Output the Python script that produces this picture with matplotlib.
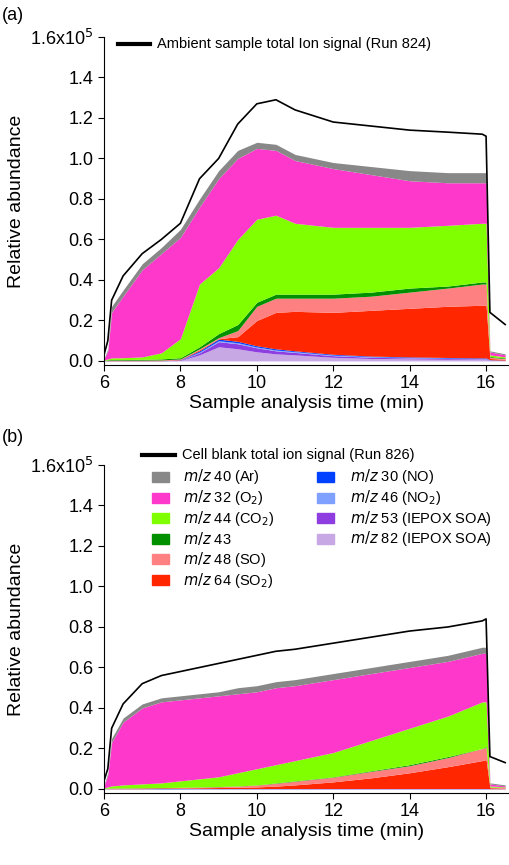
import matplotlib
matplotlib.use("Agg")
import matplotlib.pyplot as plt
import numpy as np
from matplotlib.patches import Rectangle
from matplotlib.lines import Line2D

plt.rcParams['font.family'] = ['Liberation Sans', 'DejaVu Sans']

t = [6.0,6.1,6.2,6.5,7.0,7.5,8.0,8.5,9.0,9.5,10.0,10.5,11.0,12.0,13.0,14.0,15.0,15.9,16.0,16.1,16.5]

# Panel (a) cumulative tops (x1e5), bottom layer first
a_m82 = [0,0,0,0,0,0,0.002,0.03,0.07,0.06,0.045,0.035,0.03,0.018,0.012,0.01,0.008,0.007,0.007,0.003,0.002]
a_m53 = [0,0,0,0,0,0,0.004,0.04,0.095,0.085,0.065,0.05,0.042,0.026,0.018,0.015,0.012,0.01,0.01,0.004,0.003]
a_m46 = [0,0,0,0,0,0,0.005,0.044,0.1,0.09,0.069,0.054,0.046,0.029,0.021,0.017,0.014,0.012,0.012,0.005,0.003]
a_m30 = [0.001,0.001,0.001,0.001,0.001,0.001,0.006,0.05,0.108,0.097,0.075,0.06,0.05,0.033,0.024,0.02,0.017,0.015,0.015,0.006,0.004]
a_m64 = [0.001,0.002,0.003,0.003,0.003,0.003,0.008,0.055,0.11,0.12,0.2,0.24,0.245,0.24,0.25,0.26,0.27,0.275,0.275,0.012,0.008]
a_m48 = [0.002,0.003,0.004,0.004,0.004,0.005,0.01,0.06,0.115,0.15,0.27,0.31,0.31,0.31,0.32,0.34,0.36,0.38,0.38,0.018,0.012]
a_m43 = [0.003,0.006,0.007,0.007,0.008,0.01,0.016,0.07,0.135,0.18,0.29,0.33,0.33,0.33,0.34,0.36,0.37,0.39,0.39,0.022,0.015]
a_m44 = [0.005,0.01,0.015,0.016,0.02,0.04,0.11,0.38,0.46,0.6,0.7,0.72,0.68,0.66,0.66,0.66,0.67,0.68,0.68,0.03,0.02]
a_m32 = [0.01,0.05,0.24,0.32,0.45,0.53,0.61,0.76,0.9,1.0,1.05,1.04,0.99,0.95,0.92,0.89,0.88,0.88,0.88,0.045,0.03]
a_m40 = [0.012,0.06,0.27,0.35,0.48,0.56,0.65,0.8,0.94,1.04,1.08,1.07,1.02,0.98,0.96,0.94,0.93,0.93,0.93,0.05,0.035]
a_total = [0.03,0.1,0.3,0.42,0.53,0.6,0.68,0.9,1.0,1.17,1.27,1.29,1.24,1.18,1.16,1.14,1.13,1.12,1.11,0.24,0.18]

# Panel (b)
b_m82 = [0,0,0,0,0,0,0,0,0,0,0,0,0,0,0,0,0,0,0,0,0]
b_m53 = [0,0,0,0,0,0,0,0.001,0.001,0.001,0.001,0.001,0.001,0.001,0.001,0.001,0.001,0.001,0.001,0,0]
b_m46 = [0,0,0,0,0,0,0,0.001,0.001,0.001,0.001,0.001,0.001,0.001,0.001,0.001,0.001,0.001,0.001,0,0]
b_m30 = [0.001,0.001,0.001,0.001,0.001,0.002,0.002,0.002,0.002,0.002,0.002,0.002,0.002,0.002,0.002,0.002,0.002,0.002,0.002,0.001,0.001]
b_m64 = [0.001,0.002,0.003,0.003,0.004,0.005,0.005,0.006,0.007,0.008,0.01,0.014,0.02,0.035,0.055,0.08,0.11,0.14,0.145,0.006,0.004]
b_m48 = [0.002,0.003,0.004,0.004,0.005,0.006,0.007,0.009,0.011,0.014,0.019,0.028,0.038,0.058,0.087,0.115,0.155,0.2,0.205,0.009,0.007]
b_m43 = [0.003,0.004,0.005,0.005,0.006,0.007,0.008,0.01,0.012,0.015,0.02,0.03,0.04,0.06,0.09,0.12,0.16,0.2,0.21,0.01,0.008]
b_m44 = [0.005,0.01,0.015,0.02,0.025,0.03,0.04,0.05,0.06,0.08,0.1,0.12,0.14,0.18,0.24,0.3,0.36,0.43,0.43,0.015,0.01]
b_m32 = [0.015,0.07,0.23,0.33,0.4,0.43,0.44,0.45,0.46,0.47,0.48,0.5,0.51,0.54,0.57,0.6,0.63,0.67,0.67,0.025,0.015]
b_m40 = [0.02,0.08,0.25,0.35,0.42,0.45,0.46,0.47,0.48,0.5,0.51,0.53,0.54,0.57,0.6,0.63,0.66,0.7,0.7,0.03,0.02]
b_total = [0.04,0.1,0.3,0.42,0.52,0.56,0.58,0.6,0.62,0.64,0.66,0.68,0.69,0.72,0.75,0.78,0.8,0.83,0.84,0.16,0.13]

colors = ['#c8a8e4','#8e3ee0','#80a0ff','#0040ff','#ff2600','#ff8080','#009000','#80ff00','#ff38cc','#888888']
numbers = ['82','53','46','30','64','48','43','44','32','40']
names = [' (IEPOX SOA)',' (IEPOX SOA)',' (NO$_2$)',' (NO)',' (SO$_2$)',' (SO)','',' (CO$_2$)',' (O$_2$)',' (Ar)']

fig = plt.figure(figsize=(5.1, 8.65), dpi=100)
W, H = 510, 865
axA = fig.add_axes([104/W, 1-365/H, 405/W, 328/H])
axB = fig.add_axes([104/W, 1-793/H, 405/W, 328/H])

def draw(ax, layers, total):
    x = np.array(t)
    prev = np.zeros(len(t))
    for lay, c in zip(layers, colors):
        y = np.array(lay)
        ax.fill_between(x, prev, y, color=c, lw=0)
        prev = y
    ax.plot(x, total, color='black', lw=1.2)
    ax.set_xlim(6, 16.6)
    ax.set_ylim(-0.02, 1.6)
    ax.set_xticks([6, 8, 10, 12, 14, 16])
    ax.set_yticks([0, 0.2, 0.4, 0.6, 0.8, 1.0, 1.2, 1.4, 1.6])
    ax.set_yticklabels(['0.0','0.2','0.4','0.6','0.8','1.0','1.2','1.4','1.6x10$^5$'])
    ax.tick_params(labelsize=13, direction='out', length=4)
    for s in ['top','right']:
        ax.spines[s].set_visible(False)
    ax.set_xlabel('Sample analysis time (min)', fontsize=14, labelpad=2)
    ax.set_ylabel('Relative abundance', fontsize=14)

draw(axA, [a_m82,a_m53,a_m46,a_m30,a_m64,a_m48,a_m43,a_m44,a_m32,a_m40], a_total)
draw(axB, [b_m82,b_m53,b_m46,b_m30,b_m64,b_m48,b_m43,b_m44,b_m32,b_m40], b_total)

fig.text(2/W, 1-16/H, '(a)', fontsize=13, va='center')
fig.text(2/W, 1-438/H, '(b)', fontsize=13, va='center')

def fx(px): return px/W
def fy(py): return 1-py/H

fig.add_artist(Line2D([fx(118), fx(150)], [fy(44), fy(44)], color='black', lw=3))
fig.text(fx(157), fy(44), 'Ambient sample total Ion signal (Run 824)', fontsize=10.5, va='center')
fig.add_artist(Line2D([fx(142), fx(175)], [fy(455), fy(455)], color='black', lw=3))
fig.text(fx(182), fy(455), 'Cell blank total ion signal (Run 826)', fontsize=10.5, va='center')

col1 = [9, 8, 7, 6, 5, 4]
col2 = [3, 2, 1, 0]
for col, xp, xt in [(col1, 152, 183), (col2, 317, 350)]:
    for r, i in enumerate(col):
        yc = 477 + r*20.6
        fig.add_artist(Rectangle((fx(xp), fy(yc+5)), 17/W, 10/H, color=colors[i], transform=fig.transFigure))
        fig.text(fx(xt), fy(yc), '$m/z$ ' + numbers[i] + names[i], fontsize=10.5, va='center')

fig.savefig('out.png', dpi=100)
